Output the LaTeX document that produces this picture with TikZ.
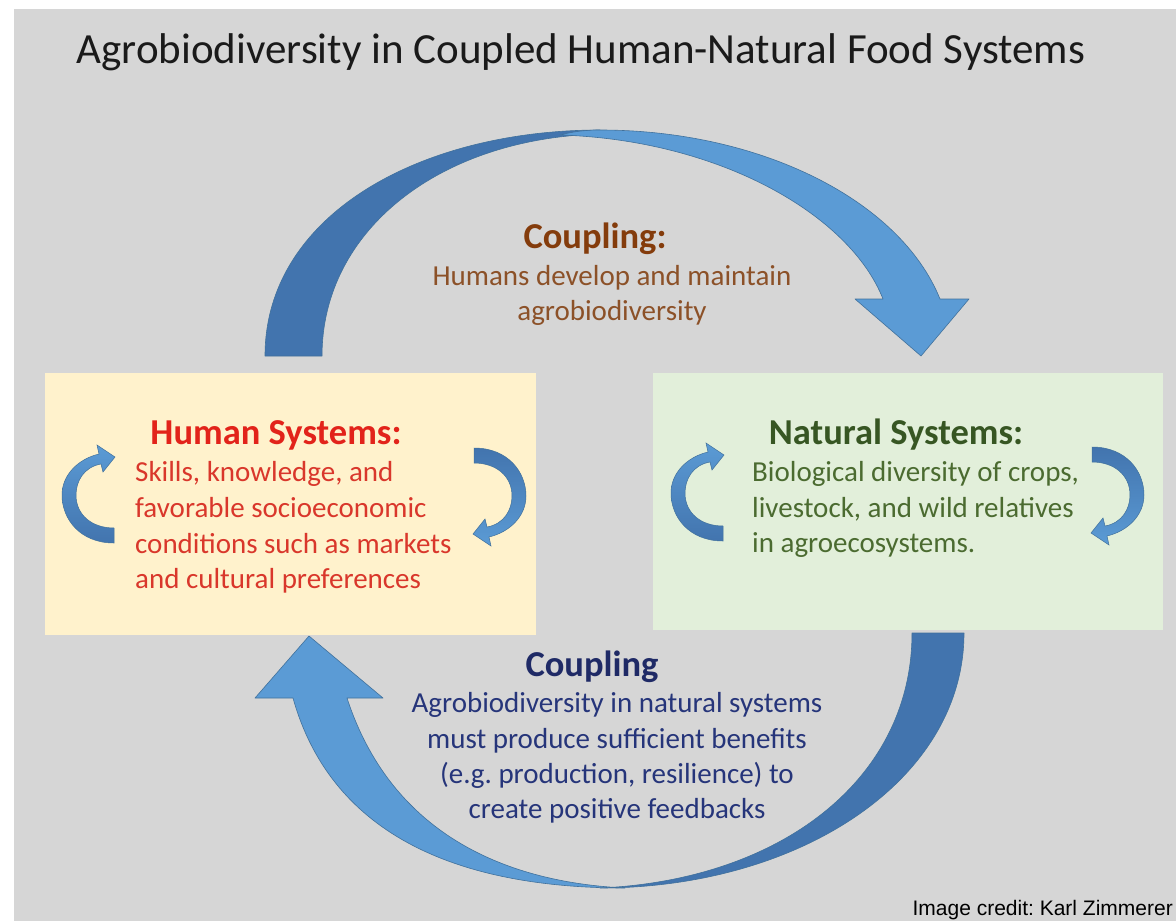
\documentclass[tikz,border=0pt]{standalone}
\usepackage{fontspec}
\setmainfont{Carlito}
\newfontfamily\creditfont{Liberation Sans}
\frenchspacing
\definecolor{bggray}{HTML}{D6D6D6}
\definecolor{humanfill}{HTML}{FFF2CC}
\definecolor{naturefill}{HTML}{E2EFDA}
\definecolor{bluelight}{HTML}{5B9BD5}
\definecolor{bluedark}{HTML}{4274AE}
\definecolor{blueedge}{HTML}{41719C}
\definecolor{titlecol}{HTML}{1A1A1A}
\definecolor{humanhead}{HTML}{E2231A}
\definecolor{humanbody}{HTML}{D9372B}
\definecolor{naturehead}{HTML}{375623}
\definecolor{naturebody}{HTML}{4B6B30}
\definecolor{couplehead}{HTML}{843C0C}
\definecolor{couplebody}{HTML}{8C5128}
\definecolor{feedhead}{HTML}{1F2A66}
\definecolor{feedbody}{HTML}{26357A}
\tikzset{
  panel/.style={inner sep=0pt, anchor=north west},
  line/.style={inner sep=0pt, anchor=base},
  lineleft/.style={inner sep=0pt, anchor=base west},
  heading/.style={font=\fontsize{36.5}{40}\selectfont\bfseries},
  bodytext/.style={font=\fontsize{29}{36}\selectfont},
  bigarrow/.style={draw=blueedge, line width=0.6pt, line join=round},
  loop arrow/.pic={
    \path[pic actions] (26,48) .. controls (-8,48) and (-26,24) .. (-26,0)
      .. controls (-26,-20) and (-10,-36) .. (11,-41) -- (9,-50) -- (27,-38)
      -- (15,-23) -- (13,-31) .. controls (-4,-28) and (-12,-14) .. (-12,0)
      .. controls (-12,20) and (4,33) .. (26,33) -- cycle;
  }
}
\begin{document}
\begin{tikzpicture}[x=1pt, y=-1pt]
\useasboundingbox (0,0) rectangle (1176,921);
\fill[white] (0,0) rectangle (1176,921);
\fill[bggray] (14,9) rectangle (1176,921);

% title
\node[line, font=\fontsize{43}{50}\selectfont, text=titlecol] (title) at (581,63)
  {Agrobiodiversity in Coupled Human-Natural Food Systems};

% the two system panels
\node[panel, fill=humanfill, minimum width=491pt, minimum height=262pt] (human) at (45,373) {};
\node[panel, fill=naturefill, minimum width=510pt, minimum height=257pt] (nature) at (653,373) {};

% upper coupling arrow: shaded back side, then the front band with its head
\path[bigarrow, fill=bluedark] (265,356) .. controls (265,215) and (420,130) .. (600,130)
  -- (600,134) .. controls (440,138) and (322,230) .. (322,356) -- cycle;
\path[bigarrow, fill=bluelight] (560,135) .. controls (575,131) and (588,130) .. (600,130)
  .. controls (760,130) and (900,200) .. (940,299) -- (969,299) -- (921,356) -- (855,299)
  -- (883,299) .. controls (850,215) and (720,140) .. (560,135) -- cycle;

% lower coupling arrow: shaded back side, then the front band with its head
\path[bigarrow, fill=bluedark] (964,633) .. controls (964,780) and (800,888) .. (600,888)
  .. controls (780,880) and (912,780) .. (912,633) -- cycle;
\path[bigarrow, fill=bluelight] (293,698) .. controls (330,830) and (450,888) .. (625,888)
  .. controls (500,882) and (390,830) .. (347,698) -- (383,698) -- (309,636) -- (255,698) -- cycle;

% small cycle arrows inside the panels
\pic[draw=blueedge, line width=0.5pt, top color=bluelight, bottom color=bluedark] at (88,495) {loop arrow};
\pic[draw=blueedge, line width=0.5pt, top color=bluedark, bottom color=bluelight, rotate=180] at (500,496) {loop arrow};
\pic[draw=blueedge, line width=0.5pt, top color=bluelight, bottom color=bluedark] at (697,493) {loop arrow};
\pic[draw=blueedge, line width=0.5pt, top color=bluedark, bottom color=bluelight, rotate=180] at (1118,495) {loop arrow};

% upper coupling text
\node[line, heading, text=couplehead] (c1h) at (595,248) {Coupling:};
\node[line, bodytext, text=couplebody] (c1a) at (612,285) {Humans develop and maintain};
\node[line, bodytext, text=couplebody] (c1b) at (612,320) {agrobiodiversity};

% human systems text
\node[line, heading, text=humanhead] (hh) at (276,444) {Human Systems:};
\node[lineleft, bodytext, text=humanbody] (h1) at (135,481) {Skills, knowledge, and};
\node[lineleft, bodytext, text=humanbody] (h2) at (135,517) {favorable socioeconomic};
\node[lineleft, bodytext, text=humanbody] (h3) at (135,553) {conditions such as markets};
\node[lineleft, bodytext, text=humanbody] (h4) at (135,588) {and cultural preferences};

% natural systems text
\node[line, heading, text=naturehead] (nh) at (896,444) {Natural Systems:};
\node[lineleft, bodytext, text=naturebody] (n1) at (752,481) {Biological diversity of crops,};
\node[lineleft, bodytext, text=naturebody] (n2) at (752,517) {livestock, and wild relatives};
\node[lineleft, bodytext, text=naturebody] (n3) at (752,552) {in agroecosystems.};

% lower coupling text
\node[line, heading, text=feedhead] (c2h) at (592,676) {Coupling};
\node[line, bodytext, text=feedbody] (c2a) at (617,712) {Agrobiodiversity in natural systems};
\node[line, bodytext, text=feedbody] (c2b) at (617,748) {must produce sufficient benefits};
\node[line, bodytext, text=feedbody] (c2c) at (617,783) {(e.g. production, resilience) to};
\node[line, bodytext, text=feedbody] (c2d) at (617,818) {create positive feedbacks};

% credit line
\node[inner sep=0pt, anchor=base east, font=\creditfont\fontsize{21}{24}\selectfont, text=black] (credit) at (1173,915)
  {Image credit: Karl Zimmerer};
\end{tikzpicture}
\end{document}
